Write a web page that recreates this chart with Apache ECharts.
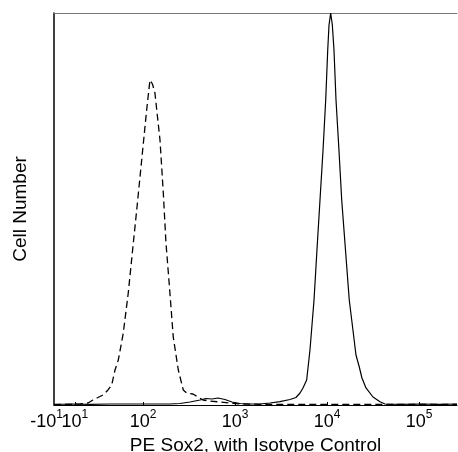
<!DOCTYPE html>
<html>
<head>
<meta charset="utf-8">
<script src="https://cdn.jsdelivr.net/npm/echarts@6/dist/echarts.min.js"></script>
<style>html,body{margin:0;padding:0;background:#fff;}#c{width:458px;height:452px;}</style>
</head>
<body>
<div id="c"></div>
<script>
// x positions are in display "decade" units of the biexponential axis (10^k at k)
var tickValues = [1.033, 1.26, 2, 3, 4, 5];
var tickBases = ['-10', '10', '10', '10', '10', '10'];
var tickExps = ['1', '1', '2', '3', '4', '5'];

var sox2 = [[1.033,0.13],[1.207,0.26],[1.424,0.18],[1.641,0.26],[1.859,0.26],[2.076,0.26],[2.293,0.26],[2.402,0.38],[2.511,0.77],[2.620,1.28],[2.685,1.66],[2.750,1.53],[2.815,1.79],[2.891,1.40],[2.967,0.77],[3.054,0.38],[3.163,0.26],[3.272,0.26],[3.380,0.51],[3.489,0.84],[3.598,1.40],[3.663,1.91],[3.707,3.06],[3.739,4.34],[3.779,6.38],[3.815,14.03],[3.837,20.4],[3.859,26.79],[3.891,39.54],[3.924,52.30],[3.957,65.05],[3.986,77.81],[4.008,90.56],[4.022,96.94],[4.040,100],[4.058,96.94],[4.076,90.56],[4.098,77.81],[4.130,65.05],[4.160,52.30],[4.201,39.54],[4.242,26.79],[4.286,18.37],[4.315,12.76],[4.351,9.69],[4.380,6.89],[4.424,4.34],[4.500,2.04],[4.576,0.84],[4.630,0.26],[4.793,0.18],[5.011,0.26],[5.228,0.18],[5.413,0.26]];

var isotype = [[1.033,0.13],[1.207,0.13],[1.315,0.26],[1.402,0.51],[1.457,1.28],[1.511,1.91],[1.565,2.55],[1.620,3.83],[1.660,5.10],[1.696,8.93],[1.732,11.48],[1.786,18.37],[1.840,28.57],[1.895,41.33],[1.932,49.74],[1.986,62.50],[2.040,75.25],[2.076,82.91],[2.103,81.89],[2.130,79.59],[2.185,67.60],[2.221,54.08],[2.250,41.33],[2.293,28.57],[2.329,17.35],[2.384,8.93],[2.438,3.83],[2.475,3.06],[2.543,2.81],[2.598,2.04],[2.652,1.28],[2.728,1.02],[2.837,0.77],[2.946,0.51],[3.054,0.26],[3.272,0.18],[3.707,0.13],[4.250,0.13],[4.793,0.13],[5.413,0.13]];

var FONT = 'Liberation Sans, Arial, sans-serif';
var xMin = 1.033, xMax = 5.413;

function labelFor(v) {
  var best = 0, bd = 1e9;
  for (var i = 0; i < tickValues.length; i++) {
    var d = Math.abs(tickValues[i] - v);
    if (d < bd) { bd = d; best = i; }
  }
  if (best === 0) return '{b|' + tickBases[best] + '}{sn|' + tickExps[best] + '}';
  return '{b|' + tickBases[best] + '}{s|' + tickExps[best] + '}';
}

var richStyles = {
  b: {fontSize: 18, fontFamily: FONT, color: '#000', lineHeight: 20, padding: [7, 0, 0, 0]},
  s: {fontSize: 12, fontFamily: FONT, color: '#000', lineHeight: 13, verticalAlign: 'top'},
  sn: {fontSize: 12, fontFamily: FONT, color: '#000', lineHeight: 13, verticalAlign: 'top', padding: [0, 15, 0, 0]}
};

var chart = echarts.init(document.getElementById('c'), null, {renderer: 'canvas'});
chart.setOption({
  animation: false,
  backgroundColor: '#fff',
  grid: {left: 54, right: 1, top: 13, bottom: 47, containLabel: false, outerBoundsMode: 'none'},
  xAxis: [{
    type: 'value', min: xMin, max: xMax,
    axisLine: {show: true, onZero: false, lineStyle: {color: '#000', width: 1}},
    axisTick: {show: true, inside: true, length: 3, customValues: tickValues.slice(1), lineStyle: {color: '#000'}},
    splitLine: {show: false},
    axisLabel: {
      show: true, margin: 4, customValues: tickValues.slice(1), hideOverlap: false,
      formatter: labelFor, rich: richStyles
    },
    name: 'PE Sox2, with Isotype Control', nameLocation: 'middle', nameGap: 31,
    nameTextStyle: {fontSize: 19, fontFamily: FONT, color: '#000'}
  }, {
    type: 'value', position: 'top', min: xMin, max: xMax,
    axisLine: {show: true, onZero: false, lineStyle: {color: '#777', width: 1}},
    axisTick: {show: false}, axisLabel: {show: false}, splitLine: {show: false}
  }, {
    type: 'value', position: 'bottom', min: xMin, max: xMax,
    axisLine: {show: false}, axisTick: {show: false}, splitLine: {show: false},
    axisLabel: {
      show: true, margin: 4, customValues: tickValues.slice(0, 1), showMinLabel: true,
      formatter: labelFor, rich: richStyles
    }
  }],
  yAxis: {
    type: 'value', min: 0, max: 100,
    axisLine: {show: true, onZero: false, lineStyle: {color: '#000', width: 1.5}},
    axisTick: {show: false}, axisLabel: {show: false}, splitLine: {show: false},
    name: 'Cell Number', nameLocation: 'middle', nameGap: 24,
    nameTextStyle: {fontSize: 19, fontFamily: FONT, color: '#000'}
  },
  series: [{
    type: 'line', data: sox2, showSymbol: false, smooth: false,
    lineStyle: {color: '#000', width: 1.2}
  }, {
    type: 'line', data: isotype, showSymbol: false, smooth: false,
    lineStyle: {color: '#000', width: 1.3, type: [7, 4]}
  }]
});
</script>
</body>
</html>
